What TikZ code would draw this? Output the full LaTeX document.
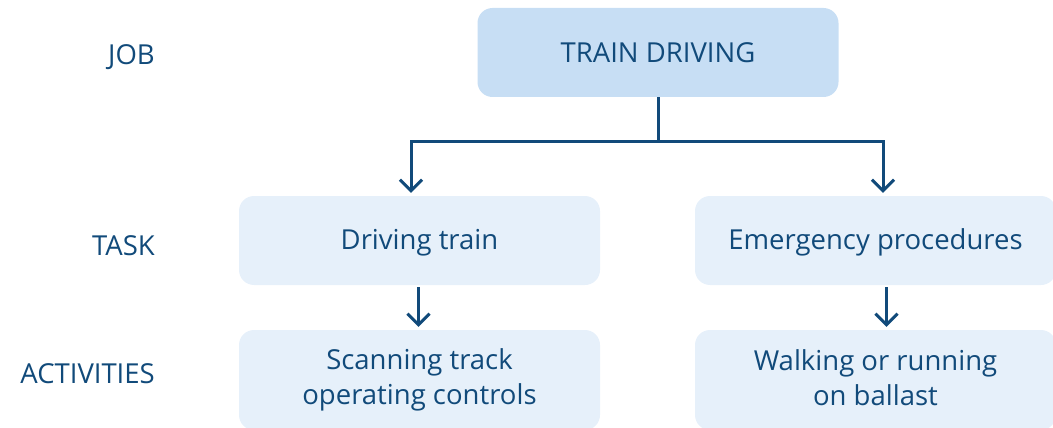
\documentclass[tikz,border=0pt]{standalone}
\usepackage{fontspec}
\setmainfont{Open Sans}
\usepackage{xcolor}
\usetikzlibrary{arrows.meta,positioning}

\definecolor{navy}{HTML}{114A7A}
\definecolor{jobfill}{HTML}{C7DEF4}
\definecolor{boxfill}{HTML}{E6F0FA}
\newcommand\boxstrut{\rule[-5.4pt]{0pt}{30.4pt}}

\begin{document}
\begin{tikzpicture}[x=1pt, y=-1pt, font=\fontsize{27.5}{35}\selectfont, text=navy,
    box/.style={rounded corners=15pt, minimum width=361pt, minimum height=89pt,
                inner sep=0pt, align=center, fill=boxfill,
                execute at begin node=\boxstrut, execute at end node=\boxstrut},
    lbl/.style={anchor=base east, inner sep=0pt},
    link/.style={draw=navy, line width=3pt},
    arr/.style={link, -{Straight Barb[length=11pt, width=22pt]}}]
  \clip (0,0) rectangle (1053,428);

  \node[box, fill=jobfill] (job)   at (658,52.5)   {TRAIN DRIVING};
  \node[box]               (drive) at (419.5,240.5) {Driving train};
  \node[box]               (emerg) at (875.5,240.5) {Emergency procedures};
  \node[box, minimum height=100pt] (scan) at (419.5,380) {Scanning track\\operating controls};
  \node[box, minimum height=100pt] (walk) at (875.5,380) {Walking or running\\on ballast};

  \node[lbl] (lJob)  at (155,64.5)  {JOB};
  \node[lbl] (lTask) at (155,255.5) {TASK};
  \node[lbl] (lAct)  at (155,383)   {ACTIVITIES};

  \coordinate (fork)  at (658,141);
  \coordinate (forkL) at (411,141);
  \coordinate (forkR) at (883,141);

  \draw[link] (job.south) -- (fork);
  \draw[link, line cap=rect] (forkL) -- (forkR);
  \draw[arr, shorten >=3pt] (forkL) -- (forkL |- drive.north);
  \draw[arr, shorten >=3pt] (forkR) -- (forkR |- emerg.north);
  \draw[arr, shorten <=2pt, shorten >=3pt] ([xshift=-1pt]drive.south) -- ([xshift=-1pt]scan.north);
  \draw[arr, shorten <=2pt, shorten >=3pt] ([xshift=11pt]emerg.south) -- ([xshift=11pt]walk.north);
\end{tikzpicture}
\end{document}
